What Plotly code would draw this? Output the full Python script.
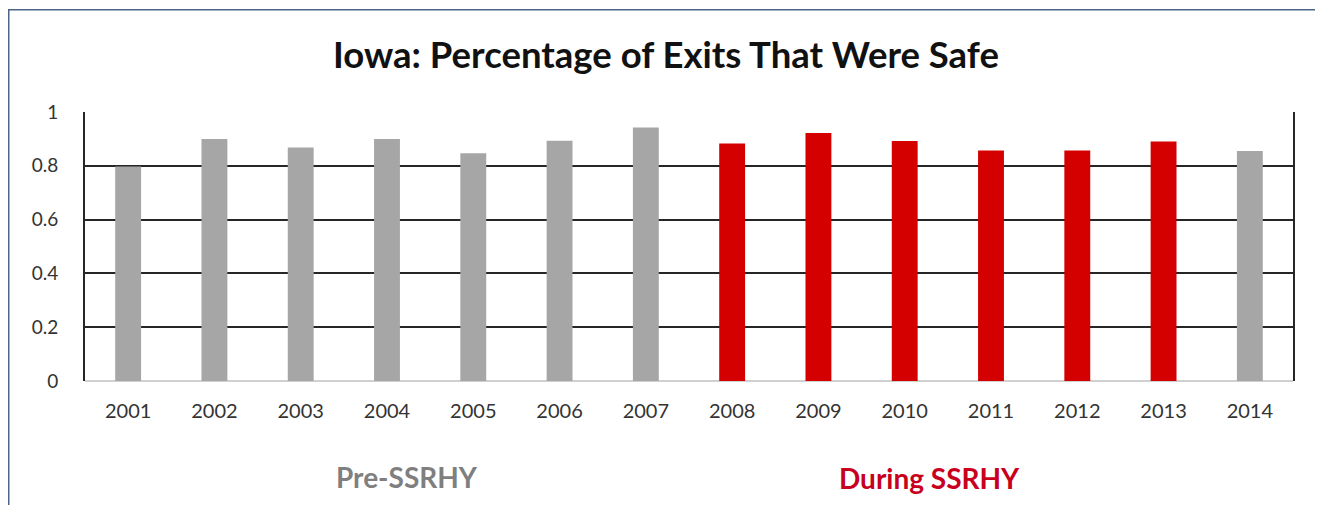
import plotly.graph_objects as go

years = ["2001", "2002", "2003", "2004", "2005", "2006", "2007",
         "2008", "2009", "2010", "2011", "2012", "2013", "2014"]
safe_pct = [0.797, 0.90, 0.868, 0.90, 0.847, 0.893, 0.942,
            0.883, 0.922, 0.892, 0.857, 0.857, 0.89, 0.855]
period = ["pre"] * 7 + ["during"] * 6 + ["pre"]
y_ticks = [0, 0.2, 0.4, 0.6, 0.8, 1]
y_tick_text = ["0", "0.2", "0.4", "0.6", "0.8", "1"]

GRAY = "#A6A6A6"
RED = "#D40000"
colors = [GRAY if p == "pre" else RED for p in period]

# page body has an 8px margin; work in page pixels and convert
OFF = 8
W, H = 1315, 497
L, R, T, B = 77, 30, 104, 124
pw, ph = W - L - R, H - T - B

def px_x(x):
    return (x - OFF - L) / pw

def px_y(y):
    return (H - B - (y - OFF)) / ph

fig = go.Figure(go.Bar(x=years, y=safe_pct, marker=dict(color=colors, line=dict(width=0)),
                       width=0.3, hoverinfo="x+y"))

fig.update_layout(
    width=W, height=H,
    margin=dict(l=L, r=R, t=T, b=B),
    paper_bgcolor="white", plot_bgcolor="white",
    font=dict(family="Lato, Open Sans, sans-serif", color="#333333"),
    showlegend=False,
    title=dict(text="<b>Iowa: Percentage of Exits That Were Safe</b>",
               x=(666 - OFF) / W, xref="container", xanchor="center",
               y=1 - (55 - OFF) / H, yref="container", yanchor="middle",
               font=dict(size=36.5, color="#111111", family="Lato, sans-serif")),
    xaxis=dict(type="category", showgrid=False, showline=False, zeroline=False,
               ticks="", tickfont=dict(size=20, color="#333333"),
               ticklabelstandoff=16),
    yaxis=dict(range=[0, 1], tickvals=y_ticks, ticktext=y_tick_text,
               showgrid=True, gridcolor="#262626", gridwidth=2,
               zeroline=True, zerolinecolor="#D0D0D0", zerolinewidth=2,
               showline=True, linecolor="#262626", linewidth=2, mirror=True,
               ticks="", tickfont=dict(size=19, color="#333333"),
               ticklabelstandoff=21),
    annotations=[
        dict(text="<b>Pre-SSRHY</b>", xref="paper", yref="paper",
             x=px_x(407), y=px_y(477), xanchor="center", yanchor="middle",
             showarrow=False, font=dict(size=28, color="#7F7F7F")),
        dict(text="<b>During SSRHY</b>", xref="paper", yref="paper",
             x=px_x(929), y=px_y(478), xanchor="center", yanchor="middle",
             showarrow=False, font=dict(size=28, color="#C8001E")),
    ],
    shapes=[
        dict(type="rect", xref="paper", yref="paper",
             x0=px_x(8.75), x1=px_x(1340), y0=px_y(530), y1=px_y(9.75),
             line=dict(color="#4A6585", width=1.5), fillcolor="rgba(0,0,0,0)",
             layer="below"),
    ],
)

fig.write_html("out.html")
